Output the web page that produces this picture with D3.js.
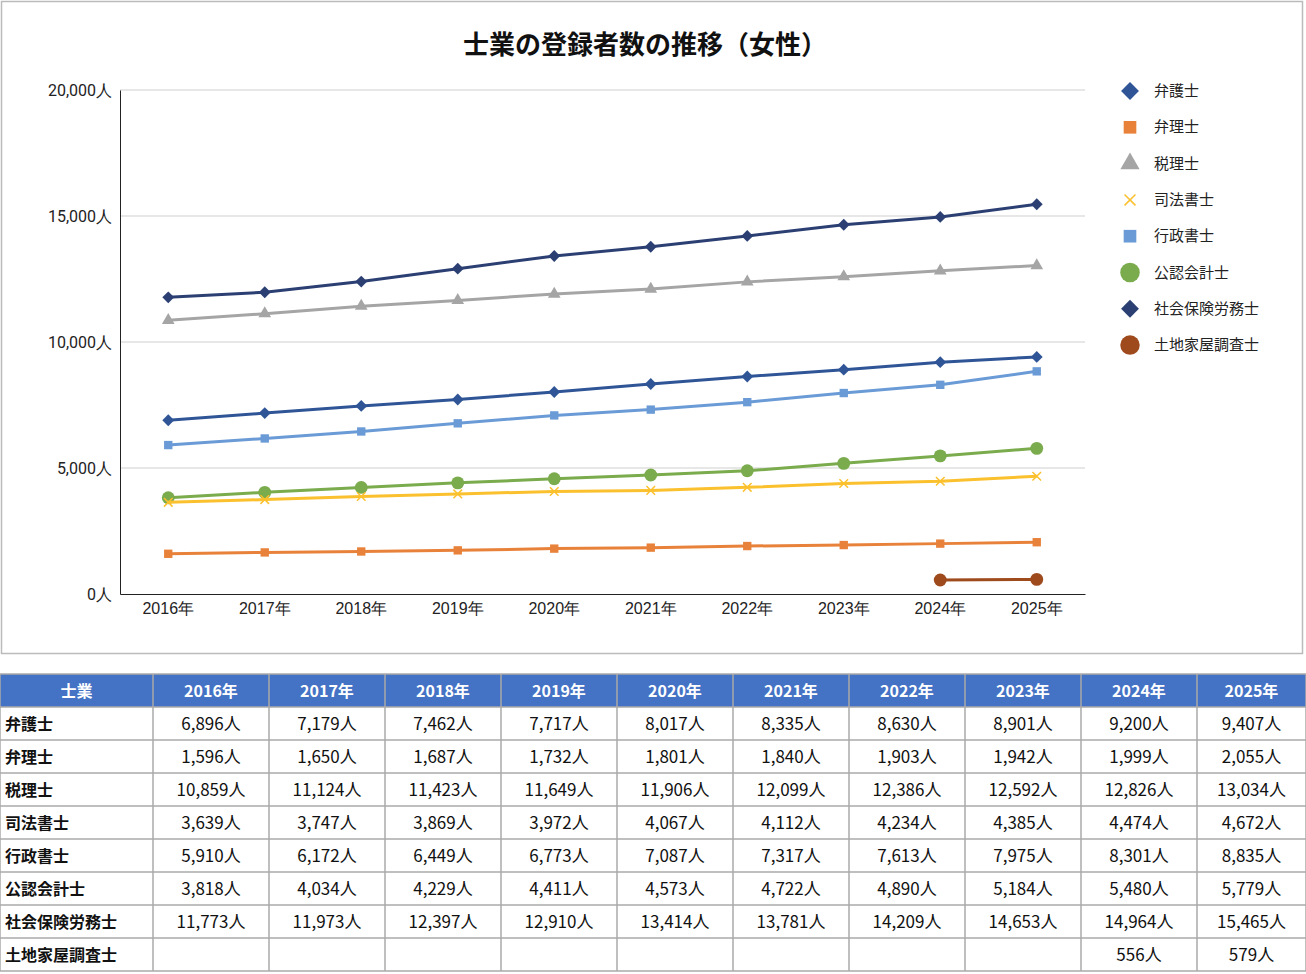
<!DOCTYPE html>
<html><head><meta charset="utf-8">
<script src="https://cdn.jsdelivr.net/npm/d3@7"></script>
<style>
body{margin:0;background:#fff;font-family:"Noto Sans CJK JP","Noto Sans",sans-serif;}
</style></head>
<body><svg id="c" width="1306" height="974"></svg>
<script>
var years = ["2016年","2017年","2018年","2019年","2020年","2021年","2022年","2023年","2024年","2025年"];
var names = ["弁護士","弁理士","税理士","司法書士","行政書士","公認会計士","社会保険労務士","土地家屋調査士"];
var bengoshi = [6896,7179,7462,7717,8017,8335,8630,8901,9200,9407];
var benrishi = [1596,1650,1687,1732,1801,1840,1903,1942,1999,2055];
var zeirishi = [10859,11124,11423,11649,11906,12099,12386,12592,12826,13034];
var shiho = [3639,3747,3869,3972,4067,4112,4234,4385,4474,4672];
var gyosei = [5910,6172,6449,6773,7087,7317,7613,7975,8301,8835];
var kaikei = [3818,4034,4229,4411,4573,4722,4890,5184,5480,5779];
var sharoshi = [11773,11973,12397,12910,13414,13781,14209,14653,14964,15465];
var tochi = [null,null,null,null,null,null,null,null,556,579];
var yTicks = [0,5000,10000,15000,20000];

var seriesVals = [bengoshi,benrishi,zeirishi,shiho,gyosei,kaikei,sharoshi,tochi];
var colors = ["#2f5597","#e8823a","#a5a5a5","#fbc02d","#6a9bd6","#7aab4c","#2b3f73","#9e4a1c"];
var shapes = ["diamond","square","triangle","x","square","circle","diamond","circle"];

var svg = d3.select("#c");
var fmt = d3.format(",");
svg.append("rect").attr("x",1.5).attr("y",1.5).attr("width",1301).attr("height",652)
  .attr("fill","#fff").attr("stroke","#bbb").attr("stroke-width",1.5);
svg.append("text").attr("x",645).attr("y",54).attr("text-anchor","middle")
  .attr("font-size",26).attr("font-weight","bold").attr("fill","#111").text("士業の登録者数の推移（女性）");

var x = d3.scaleBand().domain(years).range([120,1085]);
var y = d3.scaleLinear().domain([0,20000]).range([594,90]);

svg.append("g").selectAll(".grid").data(yTicks.filter(d=>d>0)).enter().append("line")
  .attr("x1",120).attr("x2",1085).attr("y1",d=>y(d)).attr("y2",d=>y(d))
  .attr("stroke","#d0d0d0").attr("stroke-width",1.2);
var ya = svg.append("g").attr("transform","translate(120,0)")
  .call(d3.axisLeft(y).tickValues(yTicks).tickSize(0).tickPadding(8).tickFormat(d=>fmt(d)+"人"));
ya.select(".domain").attr("stroke","#222");
ya.selectAll("text").attr("font-size",16).attr("fill","#222").attr("font-family","Roboto,sans-serif");
var xa = svg.append("g").attr("transform","translate(0,594)")
  .call(d3.axisBottom(x).tickSize(0).tickPadding(9));
xa.select(".domain").attr("stroke","#222");
xa.selectAll("text").attr("font-size",16).attr("fill","#222");

function sym(sel, shape, color, size){
  if(shape==="x"){
    sel.append("path").attr("d",d3.symbol(d3.symbolX, size)())
      .attr("stroke",color).attr("stroke-width",1.5).attr("fill","none");
  } else if(shape==="diamond"){
    sel.append("path").attr("d",d3.symbol(d3.symbolSquare,size)()).attr("transform","rotate(45)").attr("fill",color);
  } else {
    var t = {square:d3.symbolSquare,triangle:d3.symbolTriangle,circle:d3.symbolCircle}[shape];
    sel.append("path").attr("d",d3.symbol(t,size)()).attr("fill",color);
  }
}
var line = d3.line().defined(d=>d.v!=null).x(d=>x(d.yr)+x.bandwidth()/2).y(d=>y(d.v));
var order = [2,6,0,4,5,3,1,7];
order.forEach(function(i){
  var pts = years.map((yr,k)=>({yr:yr,v:seriesVals[i][k]}));
  svg.append("path").attr("d",line(pts)).attr("fill","none").attr("stroke",colors[i]).attr("stroke-width",3);
  pts.filter(d=>d.v!=null).forEach(function(d){
    var s = svg.append("g").attr("transform","translate("+(x(d.yr)+x.bandwidth()/2)+","+y(d.v)+")");
    var sz = shapes[i]==="circle"?130:shapes[i]==="x"?50:70;
    sym(s,shapes[i],colors[i],sz);
  });
});

names.forEach(function(n,i){
  var ly = 91 + i*36.3;
  var s = svg.append("g").attr("transform","translate(1130,"+ly+")");
  var sz = shapes[i]==="circle"?300:shapes[i]==="x"?80:160;
  sym(s,shapes[i],colors[i],sz);
  svg.append("text").attr("x",1154).attr("y",ly+5).attr("font-size",15).attr("fill","#222").text(n);
});

// table
var cols = [0,153].concat(years.map((d,i)=>153+116*(i+1)));
cols[11]=1306;
var tTop=674, rh=33;
var t = svg.append("g");
t.append("rect").attr("x",0).attr("y",tTop).attr("width",1306).attr("height",rh).attr("fill","#4472c4");
var header = ["士業"].concat(years);
header.forEach(function(h,c){
  t.append("text").attr("x",(cols[c]+cols[c+1])/2).attr("y",tTop+rh/2+6).attr("text-anchor","middle")
    .attr("font-size",16).attr("font-weight","bold").attr("fill","#fff").text(h);
});
names.forEach(function(n,r){
  var ry = tTop+rh*(r+1);
  t.append("text").attr("x",5).attr("y",ry+rh/2+6).attr("font-size",16).attr("font-weight","bold").attr("fill","#111").text(n);
  seriesVals[r].forEach(function(v,c){
    if(v==null) return;
    t.append("text").attr("x",(cols[c+1]+cols[c+2])/2).attr("y",ry+rh/2+6).attr("text-anchor","middle")
      .attr("font-size",17).attr("fill","#111").text(fmt(v)+"人");
  });
});
for(var r=0;r<=names.length+1;r++){
  t.append("line").attr("x1",0).attr("x2",1306).attr("y1",tTop+rh*r).attr("y2",tTop+rh*r).attr("stroke","#aaa").attr("stroke-width",1.5);
}
cols.forEach(function(cx){
  t.append("line").attr("x1",cx).attr("x2",cx).attr("y1",tTop).attr("y2",tTop+rh*(names.length+1)).attr("stroke","#aaa").attr("stroke-width",1.5);
});
</script></body></html>
